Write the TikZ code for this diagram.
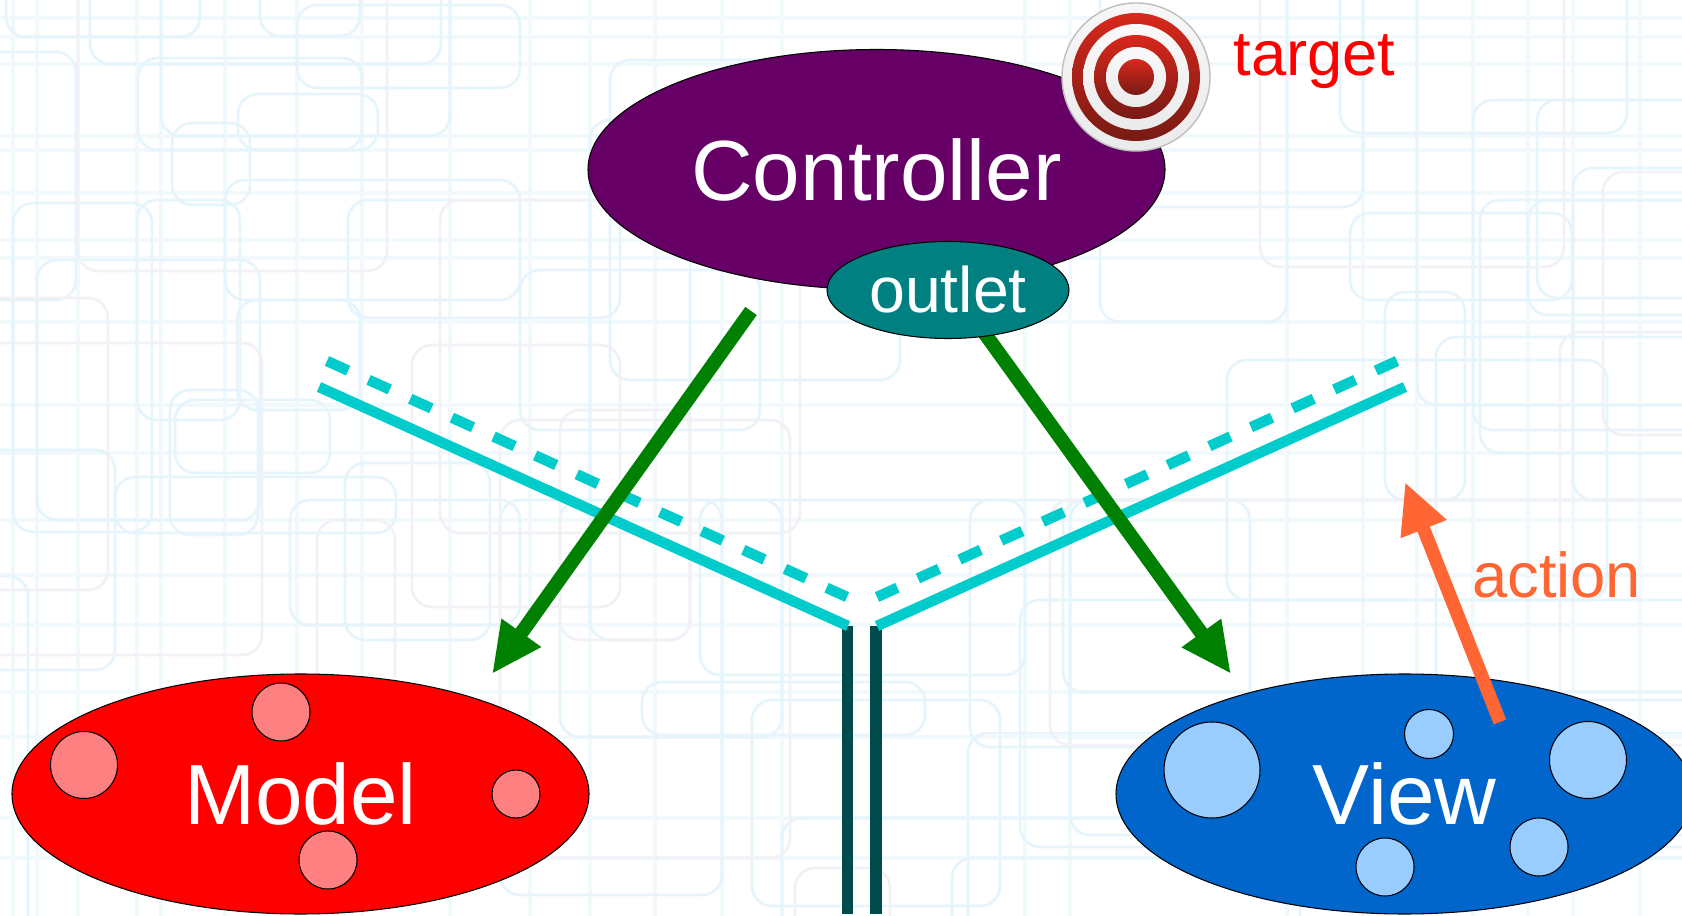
\documentclass[tikz,border=0pt]{standalone}
\usepackage{fontspec}
\setmainfont{Liberation Sans}
\usepackage{xcolor}
\usepackage{tikz}
\usetikzlibrary{positioning, arrows.meta, shapes.geometric}
\definecolor{ctrlpurple}{HTML}{660066}
\definecolor{outletteal}{HTML}{008080}
\definecolor{viewblue}{HTML}{0066CC}
\definecolor{viewdot}{HTML}{99CCFF}
\definecolor{modeldot}{HTML}{FF8080}
\definecolor{roadcyan}{HTML}{00CCCC}
\definecolor{roadbar}{HTML}{004C4C}
\definecolor{talkgreen}{HTML}{008000}
\definecolor{actionorange}{HTML}{FF6633}
\definecolor{bgblue}{HTML}{E6F4FB}
\definecolor{bgpale}{HTML}{F1F9FD}
\definecolor{bggrey}{HTML}{F1F1F6}
\definecolor{ringtop}{HTML}{D8281C}
\definecolor{ringbot}{HTML}{771A14}

\begin{document}
\begin{tikzpicture}[x=0.01cm, y=-0.01cm,
    blob/.style={ellipse, draw=black, line width=0.3pt, text=white, inner sep=0pt, minimum width=577*0.01cm, minimum height=240*0.01cm, font=\fontsize{24.3}{28}\selectfont},
    dot/.style={circle, draw=black, line width=0.3pt, inner sep=0pt},
    word/.style={anchor=base west, inner sep=0pt, font=\fontsize{18}{22}\selectfont},
    talk/.style={draw=talkgreen, line width=4pt, -{Triangle[length=14.4pt,width=12.8pt]}},
    road/.style={draw=roadcyan, line width=3pt},
    roaddash/.style={road, dash pattern=on 6.6pt off 6.4pt},
    bar/.style={draw=roadbar, line width=3.3pt}]
    \useasboundingbox (0,0) rectangle (1682,916);
    \clip (0,0) rectangle (1682,916);
    % wallpaper
    \foreach \x in {13, 37, 78, 137, 161, 225, 297, 362, 450, 530, 590, 655, 722, 782, 1025, 1070, 1287, 1363, 1417, 1473, 1528, 1573, 1640}
        \draw[bgpale, line width=0.9pt] (\x,-10)--(\x,930);
    \foreach \y in {18, 37, 64, 136, 150, 193, 240, 258, 322, 405, 453, 520, 575, 625, 692, 737, 818, 858}
        \draw[bgpale, line width=0.9pt] (-10,\y)--(1700,\y);
    \foreach \a/\b/\c/\d in {6/-50/200/37, 90/-50/441/64, 260/-50/360/36, -50/52/76/300, 138/58/362/150, 161/-50/450/136, 238/94/378/150, 297/5/520/88, 172/123/250/205, 225/180/520/300, 13/203/152/532, 37/260/260/520, 348/200/620/318, 115/477/396/533, 170/390/258/535, 137/200/240/420, 175/400/330/473, 237/300/360/410, 290/500/520/625, 345/463/490/640, -50/576/28/950, -50/450/115/670, 1100/-50/1363/207, 1340/-50/1627/133, 1417/-50/1720/405, 1350/213/1572/300, 1473/100/1720/430, 1480/200/1720/453, 1100/-50/1287/322, 1385/292/1465/500, 1436/337/1720/700, 1573/168/1720/500, 1227/360/1607/600, 1537/100/1720/298, 1528/200/1720/315, 700/500/1025/675, 642/682/925/735, 560/500/782/737, 782/818/1300/1000, 1020/600/1720/847, 952/858/1720/1000, 752/700/1000/906, 968/733/1720/1000, 970/500/1250/747, 1063/500/1720/692, 1070/500/1720/835, 500/500/722/895, 520/270/760/430, 610/60/900/380, 590/120/690/640}
        \draw[bgblue, line width=0.8pt, rounded corners=0.2cm] (\a,\b) rectangle (\c,\d);
    \foreach \a/\b/\c/\d in {78/-50/387/271, -50/298/108/590, 412/345/620/607, 440/200/800/533, 317/520/395/800, -50/343/262/655, 1260/-50/1564/267, 1560/332/1750/800, 1603/172/1750/435, 500/420/790/858, 1050/500/1720/745, 795/868/890/1000, 560/410/690/640}
        \draw[bggrey, line width=0.8pt, rounded corners=0.2cm] (\a,\b) rectangle (\c,\d);
    % connector ends
    \coordinate (ml) at (751,311); \coordinate (mt) at (492,674);
    \coordinate (vl) at (975,320); \coordinate (vt) at (1231,674);
    \coordinate (al) at (1500,722); \coordinate (at1) at (1405,482);
    \coordinate (sl1) at (319,387); \coordinate (sl2) at (848,626);
    \coordinate (sr1) at (1405,387); \coordinate (sr2) at (877,626);
    \coordinate (dl1) at (327,361); \coordinate (dl2) at (847,597);
    \coordinate (dr1) at (1397,361); \coordinate (dr2) at (877,597);
    \coordinate (bl1) at (847.5,626); \coordinate (bl2) at (847.5,914);
    \coordinate (br1) at (876,626); \coordinate (br2) at (876,914);
    \draw[bar] (bl1)--(bl2); \draw[bar] (br1)--(br2);
    \draw[road] (sl1)--(sl2); \draw[road] (sr1)--(sr2);
    \draw[roaddash] (dl1)--(dl2); \draw[roaddash] (dr1)--(dr2);
    \draw[talk] (ml)--(mt); \draw[talk] (vl)--(vt);
    % mvc
    \node[blob, fill=ctrlpurple] (controller) at (876.5,169.5) {Controller};
    \node[blob, fill=outletteal, minimum width=242*0.01cm, minimum height=97*0.01cm, font=\fontsize{18.3}{22}\selectfont] (outlet) at (948,290) {outlet};
    \node[blob, fill=red] (model) at (300.5,794) {Model};
    \node[blob, fill=viewblue] (view) at (1404.5,794) {View};
    \foreach \x/\y/\r/\n in {84/765/33.5/a, 281/712/29/b, 516/794/24/c, 328/860/29/d}
        \node[dot, fill=modeldot, minimum size=2*\r*0.01cm] (md\n) at (\x,\y) {};
    \foreach \x/\y/\r/\n in {1212/770/48/a, 1429/734/24.5/b, 1588/760/38.5/c, 1539/847/29/d, 1385/867/29/e}
        \node[dot, fill=viewdot, minimum size=2*\r*0.01cm] (vd\n) at (\x,\y) {};
    % bullseye
    \node[circle, draw=black!25, line width=0.4pt, top color=white!97!black, bottom color=white!92!black, minimum size=148*0.01cm, inner sep=0pt] (bull) at (1136,77) {};
    \foreach \r/\c in {64/1, 53/0, 42/1, 30/0, 18/1} {
        \ifnum\c=1 \shade[top color=ringtop, bottom color=ringbot] (bull.center) circle (\r*0.01cm);
        \else \shade[top color=white!98!black, bottom color=white!92!black] (bull.center) circle (\r*0.01cm); \fi }
    \node[word, text=red] (targetlabel) at (1233,76) {target};
    \node[word, text=actionorange] (actionlabel) at (1471.5,597) {action};
    \draw[draw=actionorange, line width=3.8pt, -{Triangle[length=14.4pt,width=13pt]}] (al)--(at1);
\end{tikzpicture}
\end{document}
